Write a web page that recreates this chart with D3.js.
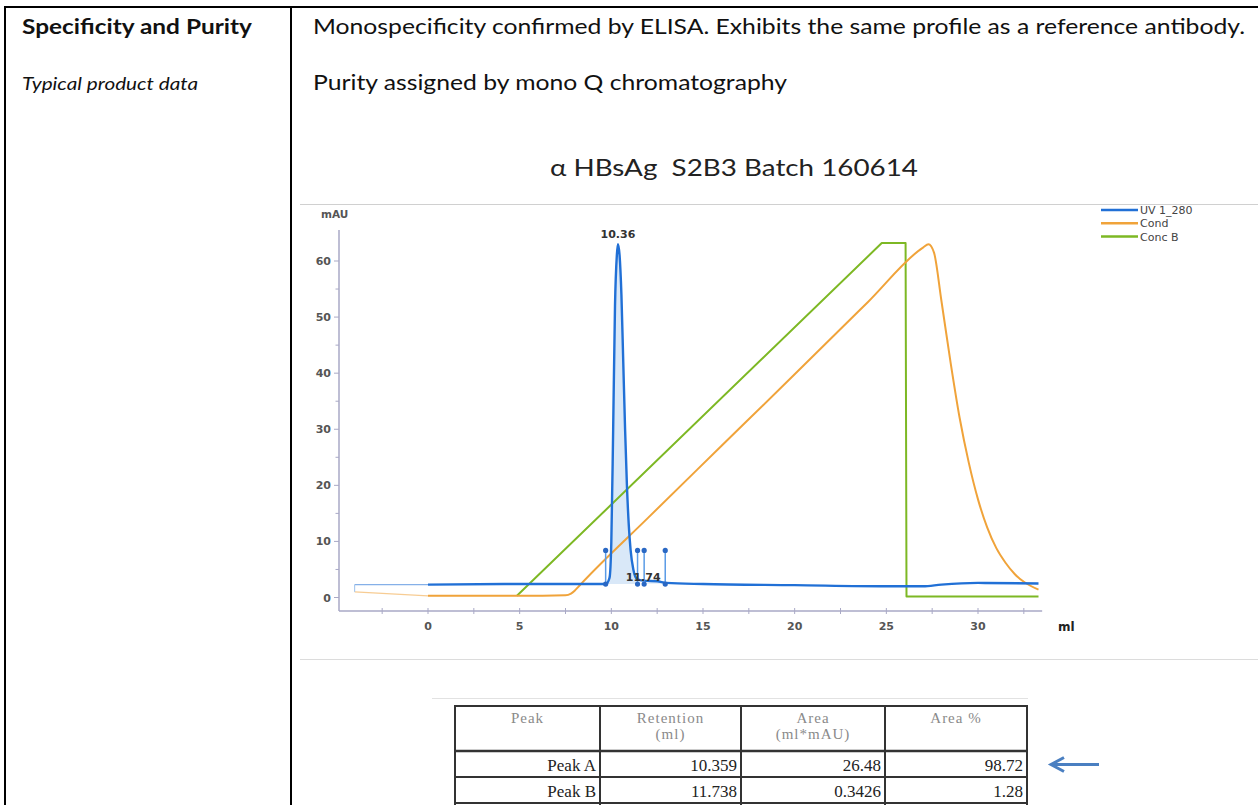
<!DOCTYPE html>
<html>
<head>
<meta charset="utf-8">
<script src="https://cdn.jsdelivr.net/npm/d3@7"></script>
<style>
  body { margin: 0; background: #fff; }
  svg { display: block; }
</style>
</head>
<body>
<div id="page"></div>
<script>
// ---------- data ----------
var seriesNames  = ["UV 1_280", "Cond", "Conc B"];
var seriesColors = ["#2170d6", "#f0a33a", "#7db824"];

// UV 1_280 trace (ml, mAU)
var uvMl  = [-4.0, 0, 5, 9.0, 9.7, 9.9, 10.0, 10.1, 10.2, 10.3, 10.36, 10.45, 10.55, 10.65, 10.75, 10.85, 10.95, 11.05, 11.2, 11.4, 11.74, 12.5, 13, 15, 20, 25, 27, 28, 30, 33.3];
var uvMau = [2.3, 2.3, 2.4, 2.4, 2.4, 3.5, 10, 30, 52, 61, 63, 61, 54, 42, 30, 20, 13, 8.5, 5, 3.3, 3.0, 2.9, 2.6, 2.4, 2.2, 2.0, 2.0, 2.3, 2.6, 2.5];

// conductivity trace
var condMl  = [-4.0, 0, 5, 7.5, 7.8, 8.0, 8.2, 8.4, 12, 16, 20, 24, 27.0, 27.3, 27.6, 28.0, 28.5, 29.0, 29.5, 30.0, 30.5, 31.0, 31.5, 32.0, 32.5, 33.3];
var condMau = [1.0, 0.3, 0.3, 0.4, 0.7, 1.2, 1.9, 2.6, 14.2, 27.0, 39.8, 52.7, 62.4, 63.0, 61.5, 53, 42, 32, 24, 17.5, 12.5, 8.8, 6.2, 4.2, 2.8, 1.4];

// gradient (Conc B) trace
var concMl  = [-4.0, 4.85, 24.75, 26.05, 26.1, 33.3];
var concMau = [0.3, 0.3, 63.2, 63.2, 0.2, 0.2];

// integration marks
var peakBounds = [9.69, 11.43, 11.79, 12.94];
var markTop = 8.4, baseLevel = 2.4;

// peak table
var tableHeaders  = [["Peak"], ["Retention", "(ml)"], ["Area", "(ml*mAU)"], ["Area %"]];
var peakNames     = ["Peak A", "Peak B"];
var peakRetention = [10.359, 11.738];
var peakArea      = [26.48, 0.3426];
var peakAreaPct   = [98.72, 1.28];
var peakHeight    = [63, 3.0];

var xTicks = [0, 5, 10, 15, 20, 25, 30];
var yTicks = [0, 10, 20, 30, 40, 50, 60];

// ---------- page ----------
var W = 1258, H = 805;
var svg = d3.select("#page").append("svg").attr("width", W).attr("height", H);

var sans = "Lato, 'Open Sans', sans-serif";
var tickFont = "'DejaVu Sans', Verdana, sans-serif";

// outer document table
svg.append("line").attr("x1", 5).attr("x2", W).attr("y1", 7).attr("y2", 7).attr("stroke", "#000").attr("stroke-width", 2);
svg.append("line").attr("x1", 5).attr("x2", 5).attr("y1", 6).attr("y2", H).attr("stroke", "#000").attr("stroke-width", 2);
svg.append("line").attr("x1", 291).attr("x2", 291).attr("y1", 6).attr("y2", H).attr("stroke", "#000").attr("stroke-width", 2);

function txt(x, y, s, size, len, opts) {
  var t = svg.append("text").attr("x", x).attr("y", y).text(s)
    .style("font-family", sans).style("font-size", size + "px").attr("fill", "#111")
    .style("white-space", "pre");
  if (opts && opts.bold) t.style("font-weight", "bold");
  if (opts && opts.italic) t.style("font-style", "italic");
  if (len) t.attr("textLength", len).attr("lengthAdjust", "spacingAndGlyphs");
  return t;
}

txt(22, 34, "Specificity and Purity", 21, 230, {bold: true});
var row1 = txt(313, 34, "Monospecificity confirmed by ELISA. Exhibits the same profile as a reference antibody.", 21);
var squeeze = 932 / row1.node().getComputedTextLength();
row1.attr("textLength", 932).attr("lengthAdjust", "spacingAndGlyphs");
txt(22, 90, "Typical product data", 17, 176, {italic: true});
var row2 = txt(313, 90, "Purity assigned by mono Q chromatography", 21);
row2.attr("textLength", row2.node().getComputedTextLength() * squeeze).attr("lengthAdjust", "spacingAndGlyphs");
txt(550, 176, "\u03b1 HBsAg  S2B3 Batch 160614", 24, 368).attr("fill", "#222");

// chart image frame lines
svg.append("line").attr("x1", 300).attr("x2", W).attr("y1", 204.5).attr("y2", 204.5).attr("stroke", "#d0d0d0");
svg.append("line").attr("x1", 300).attr("x2", W).attr("y1", 659.5).attr("y2", 659.5).attr("stroke", "#dcdcdc");

// ---------- chromatogram ----------
var x = d3.scaleLinear().domain([0, 30]).range([428, 978]);
var y = d3.scaleLinear().domain([0, 60]).range([597.5, 261]);
var axisCol = "#a9a9c6";

var g = svg.append("g");

// y axis
g.append("line").attr("x1", 339).attr("x2", 339).attr("y1", 230).attr("y2", 611).attr("stroke", axisCol).attr("stroke-width", 1.5);
g.selectAll(".ytm").data(d3.range(0, 65, 5)).enter().append("line")
  .attr("x1", function(d){ return d % 10 === 0 ? 334 : 335.5; }).attr("x2", 339)
  .attr("y1", function(d){ return y(d); }).attr("y2", function(d){ return y(d); })
  .attr("stroke", axisCol).attr("stroke-width", 1);
g.selectAll(".ytl").data(yTicks).enter().append("text")
  .attr("x", 331).attr("y", function(d){ return y(d) + 4; })
  .attr("text-anchor", "end").text(function(d){ return d; })
  .style("font-family", tickFont).style("font-size", "11px").style("font-weight", "bold").attr("fill", "#555");
g.append("text").attr("x", 321).attr("y", 218).text("mAU")
  .style("font-family", tickFont).style("font-size", "10.5px").style("font-weight", "bold").attr("fill", "#555");

// x axis
g.append("line").attr("x1", 339).attr("x2", x(33.5)).attr("y1", 611).attr("y2", 611).attr("stroke", axisCol).attr("stroke-width", 1.5);
g.selectAll(".xtm").data(d3.range(-2.5, 33, 2.5)).enter().append("line")
  .attr("x1", function(d){ return x(d); }).attr("x2", function(d){ return x(d); })
  .attr("y1", 608).attr("y2", 614).attr("stroke", axisCol).attr("stroke-width", 1);
g.selectAll(".xtl").data(xTicks).enter().append("text")
  .attr("x", function(d){ return x(d); }).attr("y", 630)
  .attr("text-anchor", "middle").text(function(d){ return d; })
  .style("font-family", tickFont).style("font-size", "11px").style("font-weight", "bold").attr("fill", "#555");
g.append("text").attr("x", 1058).attr("y", 631).text("ml")
  .style("font-family", tickFont).style("font-size", "12px").style("font-weight", "bold").attr("fill", "#222");

function pts(mls, vals) { return mls.map(function(m, i){ return [m, vals[i]]; }); }
var uv = pts(uvMl, uvMau), cond = pts(condMl, condMau), conc = pts(concMl, concMau);

var lineMono = d3.line().x(function(d){ return x(d[0]); }).y(function(d){ return y(d[1]); }).curve(d3.curveMonotoneX);
var lineLin  = d3.line().x(function(d){ return x(d[0]); }).y(function(d){ return y(d[1]); });

// integrated peak areas (light fill)
var areaFn = d3.area().x(function(d){ return x(d[0]); }).y0(y(baseLevel)).y1(function(d){ return y(d[1]); }).curve(d3.curveMonotoneX);
[[peakBounds[0], peakBounds[1]], [peakBounds[2], peakBounds[3]]].forEach(function(b, k) {
  var seg = uv.filter(function(d){ return d[0] > b[0] && d[0] < b[1]; });
  seg = [[b[0], baseLevel]].concat(seg).concat([[b[1], baseLevel + 0.4]]);
  g.append("path").attr("d", areaFn(seg)).attr("fill", "#cfe2f6").attr("opacity", k === 0 ? 0.8 : 0.5);
});

// pre-injection part drawn faint
function drawSeries(data, col, fn, sw) {
  var pre = data.filter(function(d){ return d[0] <= 0; });
  var post = data.filter(function(d){ return d[0] >= 0; });
  g.append("path").attr("d", lineLin(pre)).attr("fill", "none").attr("stroke", col).attr("stroke-width", 1.2).attr("opacity", 0.55);
  g.append("path").attr("d", fn(post)).attr("fill", "none").attr("stroke", col).attr("stroke-width", sw).attr("stroke-linejoin", "round");
}
drawSeries(conc, seriesColors[2], lineLin, 2);
drawSeries(cond, seriesColors[1], lineMono, 2);
drawSeries(uv, seriesColors[0], lineMono, 2.4);
g.append("line").attr("x1", x(uvMl[0])).attr("x2", x(uvMl[0]))
  .attr("y1", y(uvMau[0])).attr("y2", y(condMau[0])).attr("stroke", "#9cc0ea").attr("stroke-width", 1);

// integration marks
var marks = g.selectAll(".mk").data(peakBounds).enter().append("g");
marks.append("line").attr("x1", function(d){ return x(d); }).attr("x2", function(d){ return x(d); })
  .attr("y1", y(baseLevel)).attr("y2", y(markTop)).attr("stroke", "#5a9be6").attr("stroke-width", 1.5);
marks.append("circle").attr("cx", function(d){ return x(d); }).attr("cy", y(markTop)).attr("r", 2.6).attr("fill", "#2a68c4");
marks.append("circle").attr("cx", function(d){ return x(d); }).attr("cy", y(baseLevel)).attr("r", 2.6).attr("fill", "#2a68c4");

// peak labels (main peak above apex, small peak label sits on the baseline)
g.selectAll(".pl").data(peakRetention).enter().append("text")
  .attr("x", function(d){ return x(d); })
  .attr("y", function(d, i){ return i === 0 ? y(peakHeight[i]) - 6 : y(peakHeight[i]); })
  .attr("text-anchor", "middle").text(function(d){ return d.toFixed(2); })
  .style("font-family", tickFont).style("font-size", "11px").style("font-weight", "bold").attr("fill", "#333");

// legend
var leg = svg.selectAll(".leg").data(seriesNames).enter().append("g")
  .attr("transform", function(d, i){ return "translate(1101," + (210 + i * 13.3) + ")"; });
leg.append("line").attr("x1", 0).attr("x2", 37).attr("y1", 0).attr("y2", 0)
  .attr("stroke", function(d, i){ return seriesColors[i]; }).attr("stroke-width", 2.5);
leg.append("text").attr("x", 39).attr("y", 4).text(function(d){ return d; })
  .style("font-family", tickFont).style("font-size", "11px").attr("fill", "#444");

// ---------- peak table (pasted image) ----------
svg.append("line").attr("x1", 432).attr("x2", 1028).attr("y1", 698.5).attr("y2", 698.5).attr("stroke", "#e2e2e2");
var colX = [455, 600, 741, 885, 1027];
var rowY = [706, 751, 777, 803];
var tg = svg.append("g");
colX.forEach(function(cx) {
  tg.append("line").attr("x1", cx).attr("x2", cx).attr("y1", rowY[0]).attr("y2", H).attr("stroke", "#333").attr("stroke-width", 2);
});
rowY.forEach(function(ry, i) {
  tg.append("line").attr("x1", colX[0] - 1).attr("x2", colX[4] + 1).attr("y1", ry).attr("y2", ry)
    .attr("stroke", "#333").attr("stroke-width", i === 1 ? 2.5 : 2);
});
tableHeaders.forEach(function(lines, c) {
  var cx = (colX[c] + colX[c + 1]) / 2;
  lines.forEach(function(s, k) {
    tg.append("text").attr("x", cx).attr("y", 723 + k * 16).attr("text-anchor", "middle").text(s)
      .style("font-family", "'Liberation Serif', 'Times New Roman', serif").style("font-size", "15px")
      .style("letter-spacing", "1px").attr("fill", "#8a8a8a");
  });
});
var rows = peakNames.map(function(n, i){ return [n, peakRetention[i], peakArea[i], peakAreaPct[i]]; });
rows.forEach(function(r, i) {
  r.forEach(function(v, c) {
    tg.append("text").attr("x", colX[c + 1] - 4).attr("y", rowY[i + 1] + 20).attr("text-anchor", "end").text(String(v))
      .style("font-family", "'Liberation Serif', 'Times New Roman', serif").style("font-size", "17px").attr("fill", "#222");
  });
});

// arrow pointing at Peak A
var ay = (rowY[1] + rowY[2]) / 2 + 0.5;
svg.append("line").attr("x1", 1053).attr("x2", 1099).attr("y1", ay).attr("y2", ay).attr("stroke", "#4a7fc1").attr("stroke-width", 3);
svg.append("path").attr("d", "M1064," + (ay - 7) + " L1051," + ay + " L1064," + (ay + 7))
  .attr("fill", "none").attr("stroke", "#4a7fc1").attr("stroke-width", 3);
</script>
</body>
</html>
